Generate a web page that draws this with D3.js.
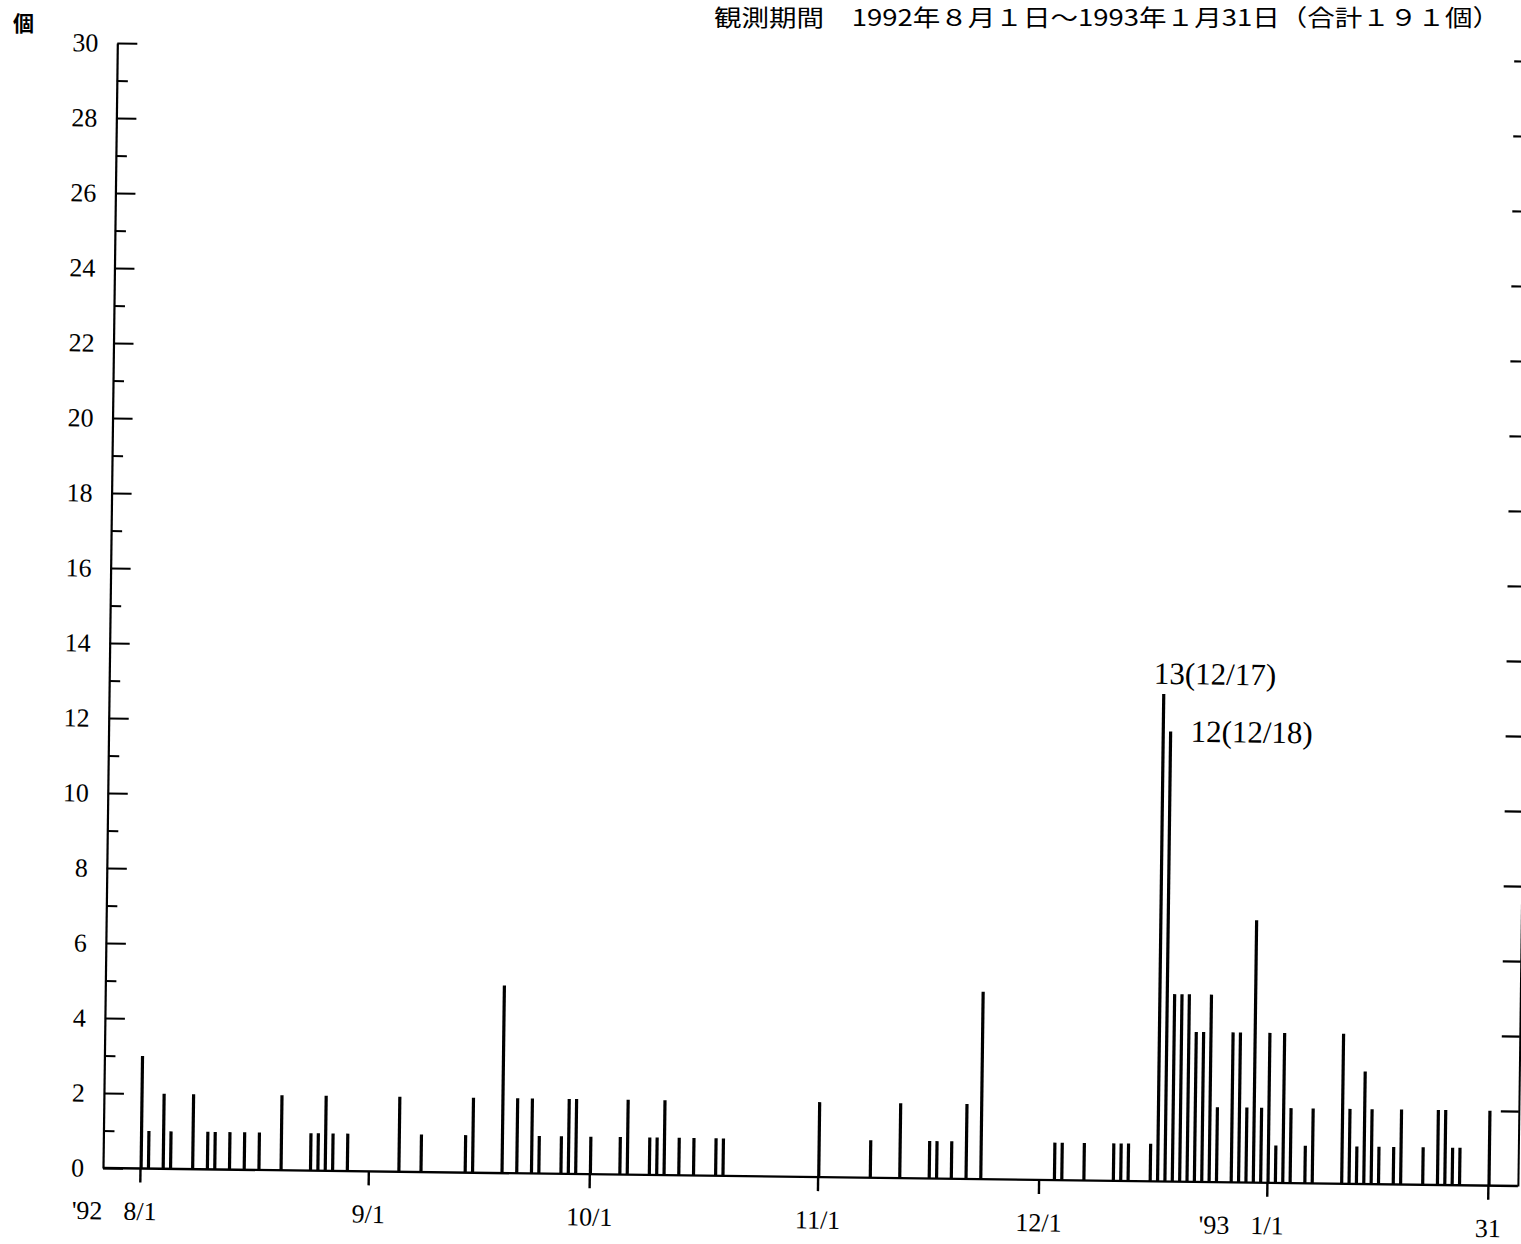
<!DOCTYPE html>
<html><head><meta charset="utf-8">
<script src="https://cdn.jsdelivr.net/npm/d3@7"></script>
<style>
html,body{margin:0;padding:0;background:#fff;}
svg{display:block;}
</style></head><body>
<svg id="chart" width="1521" height="1244"></svg>
<script>
// ---- data ----
const dates = [
 "1992-08-01","1992-08-02","1992-08-04","1992-08-05","1992-08-08","1992-08-10","1992-08-11","1992-08-13",
 "1992-08-15","1992-08-17","1992-08-20","1992-08-24","1992-08-25","1992-08-26","1992-08-27","1992-08-29",
 "1992-09-05","1992-09-08","1992-09-14","1992-09-15","1992-09-19","1992-09-21","1992-09-23","1992-09-24",
 "1992-09-27","1992-09-28","1992-09-29",
 "1992-10-01","1992-10-05","1992-10-06","1992-10-09","1992-10-10","1992-10-11","1992-10-13","1992-10-15",
 "1992-10-18","1992-10-19",
 "1992-11-01","1992-11-08","1992-11-12","1992-11-16","1992-11-17","1992-11-19","1992-11-21","1992-11-23",
 "1992-12-03","1992-12-04","1992-12-07","1992-12-11","1992-12-12","1992-12-13","1992-12-16","1992-12-17",
 "1992-12-18","1992-12-19","1992-12-20","1992-12-21","1992-12-22","1992-12-23","1992-12-24","1992-12-25",
 "1992-12-27","1992-12-28","1992-12-29","1992-12-30","1992-12-31",
 "1993-01-01","1993-01-02","1993-01-03","1993-01-04","1993-01-06","1993-01-07","1993-01-11","1993-01-12",
 "1993-01-13","1993-01-14","1993-01-15","1993-01-16","1993-01-18","1993-01-19","1993-01-22","1993-01-24",
 "1993-01-25","1993-01-26","1993-01-27","1993-01-31"
];
const counts = [
 3,1,2,1,2,1,1,1,
 1,1,2,1,1,2,1,1,
 2,1,1,2,5,2,2,1,
 1,2,2,
 1,1,2,1,1,2,1,1,
 1,1,
 2,1,2,1,1,1,2,5,
 1,1,1,1,1,1,1,13,
 12,5,5,5,4,4,5,2,
 4,4,2,7,2,
 4,1,4,2,1,2,4,2,
 1,3,2,1,1,2,1,2,
 2,1,1,2
];
const xTickDates = ["1992-08-01","1992-09-01","1992-10-01","1992-11-01","1992-12-01","1993-01-01","1993-01-31"];
const xTickLabels = ["8/1","9/1","10/1","11/1","12/1","1/1","31"];
const yearDates = ["1992-08-01","1993-01-01"];
const yearLabels = ["'92","'93"];
const yMajorTicks = [0,2,4,6,8,10,12,14,16,18,20,22,24,26,28,30];
const yMinorTicks = [1,3,5,7,9,11,13,15,17,19,21,23,25,27,29];
const annotDates = ["1992-12-17","1992-12-18"];
const annotTexts = ["13(12/17)","12(12/18)"];
const titleText = "観測期間　1992年８月１日～1993年１月31日（合計１９１個）";
const unitText = "個";

// ---- setup ----
const parse = d3.timeParse("%Y-%m-%d");
const data = dates.map((d,i)=>({date:parse(d), v:counts[i]}));
const svg = d3.select("#chart");
const W = 1521, H = 1244;
svg.append("rect").attr("width",W).attr("height",H).attr("fill","#fff");

const axX = 103, axY = 1168, rightX = 1518;
const x = d3.scaleTime().domain([parse("1992-08-01"), parse("1993-01-31")]).range([140, 1488]);
const y = d3.scaleLinear().domain([0,30]).range([axY, 43]);

const serif = "'Liberation Serif','DejaVu Serif',serif";

// title
svg.append("text").attr("x",714).attr("y",26)
  .attr("font-family","'Noto Sans CJK JP',sans-serif").attr("font-size",23)
  .attr("textLength",786).attr("lengthAdjust","spacingAndGlyphs")
  .attr("fill","#000").text(titleText);

svg.append("text").attr("x",13).attr("y",31)
  .attr("font-family","'Noto Sans CJK JP',sans-serif").attr("font-size",21).attr("font-weight",700)
  .attr("fill","#000").text(unitText);

// slightly rotated plot group (scanned page)
const g = svg.append("g").attr("transform",`rotate(0.73,${axX},${axY})`);

// left axis
const yAxisMajor = d3.axisLeft(y).tickValues(yMajorTicks).tickSize(-20).tickSizeOuter(0).tickPadding(19)
  .tickFormat(d3.format("d"));
const yl = g.append("g").attr("transform",`translate(${axX},0)`).call(yAxisMajor);
yl.select(".domain").attr("stroke","#000").attr("stroke-width",2.2);
yl.selectAll(".tick line").attr("stroke","#000").attr("stroke-width",2);
yl.selectAll(".tick text").attr("font-family",serif).attr("font-size",26).attr("fill","#000");
const yAxisMinor = d3.axisLeft(y).tickValues(yMinorTicks).tickSize(-11).tickSizeOuter(0).tickFormat("");
const ym = g.append("g").attr("transform",`translate(${axX},0)`).call(yAxisMinor);
ym.select(".domain").remove();
ym.selectAll(".tick line").attr("stroke","#000").attr("stroke-width",2);

// right axis (ticks only visible at the page edge)
const yAxisRight = d3.axisRight(y).tickValues(yMajorTicks.slice(1)).tickSize(-18).tickSizeOuter(0).tickFormat("");
const yr = g.append("g").attr("transform",`translate(${rightX},0)`).call(yAxisRight);
yr.select(".domain").attr("stroke","#000").attr("stroke-width",2);
yr.selectAll(".tick line").attr("stroke","#000").attr("stroke-width",2.2);

// baseline + x axis
g.append("line").attr("x1",axX).attr("x2",rightX).attr("y1",axY).attr("y2",axY)
  .attr("stroke","#000").attr("stroke-width",2.4);
const xAxis = d3.axisBottom(x).tickValues(xTickDates.map(parse)).tickSize(14).tickSizeOuter(0).tickPadding(19)
  .tickFormat((d,i)=>xTickLabels[i]);
const xa = g.append("g").attr("transform",`translate(0,${axY})`).call(xAxis);
xa.select(".domain").remove();
xa.selectAll(".tick line").attr("stroke","#000").attr("stroke-width",2.4);
xa.selectAll(".tick text").attr("font-family",serif).attr("font-size",26).attr("fill","#000");

g.selectAll("text.year").data(yearDates).join("text").attr("class","year")
  .attr("x",d=>x(parse(d))-37).attr("y",axY+33).attr("dy","0.71em")
  .attr("text-anchor","end").attr("font-family",serif).attr("font-size",26).attr("fill","#000")
  .text((d,i)=>yearLabels[i]);

// bars
g.selectAll("rect.bar").data(data).join("rect").attr("class","bar")
  .attr("x",d=>x(d.date)-0.5).attr("width",3.2)
  .attr("y",d=>y(d.v)).attr("height",d=>y(0)-y(d.v))
  .attr("fill","#000");

// annotations
const ann = annotDates.map((d,i)=>{
  const rec = data.find(r=>+r.date===+parse(d));
  return {date:parse(d), v:rec.v, text:annotTexts[i], i};
});
g.selectAll("text.ann").data(ann).join("text").attr("class","ann")
  .attr("x",d=> d.i===0 ? x(d.date)-9 : x(d.date)+21)
  .attr("y",d=> d.i===0 ? y(d.v)-10 : y(d.v)+10)
  .attr("font-family",serif).attr("font-size",31).attr("fill","#000")
  .text(d=>d.text);
</script>
</body></html>
